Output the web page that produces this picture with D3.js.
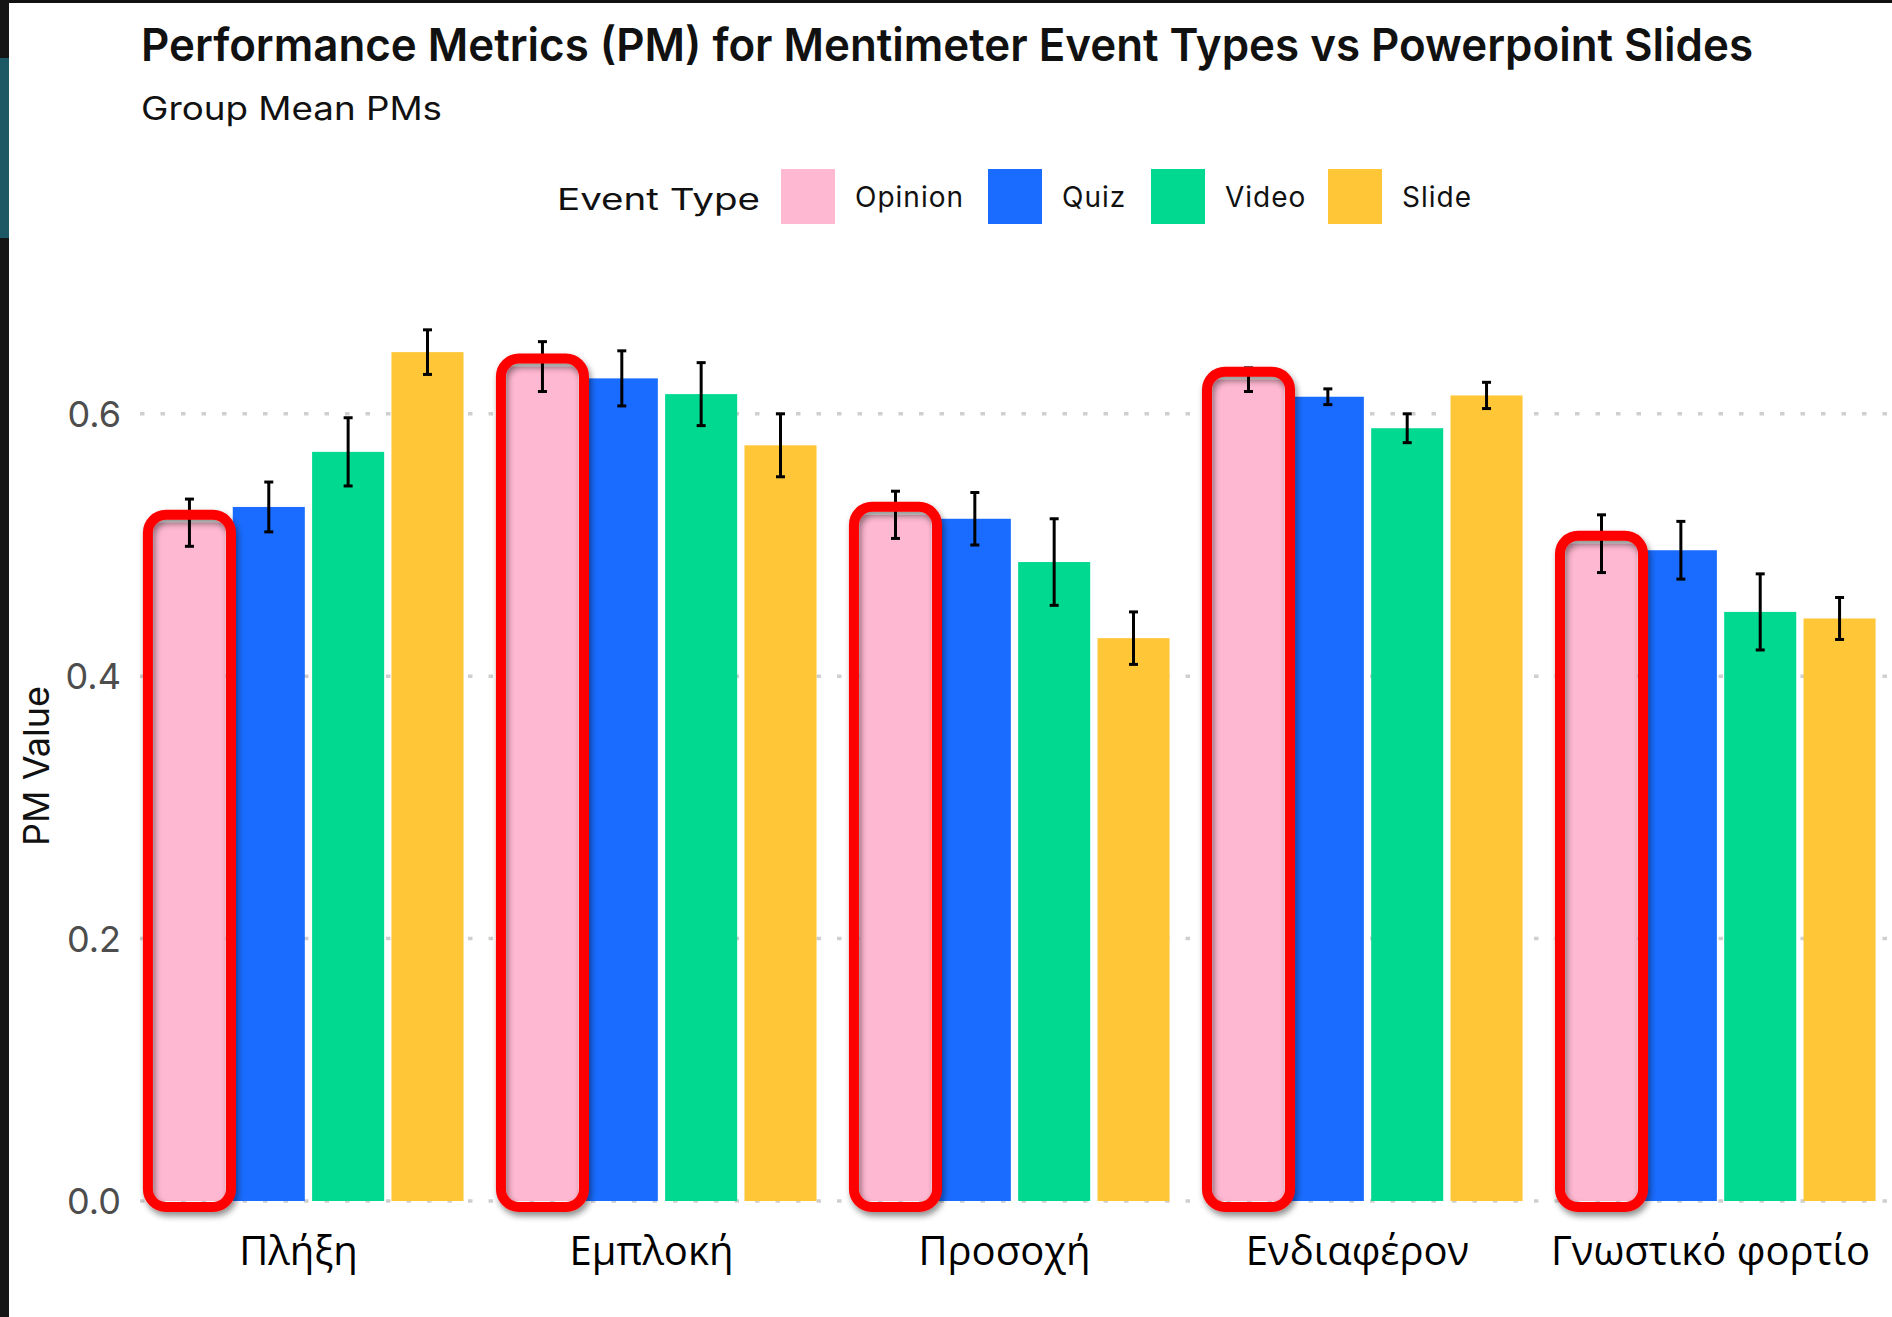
<!DOCTYPE html>
<html>
<head>
<meta charset="utf-8">
<script src="https://cdn.jsdelivr.net/npm/d3@7"></script>
<style>
  html, body { margin: 0; padding: 0; background: #fff; }
  svg { display: block; }
</style>
</head>
<body>
<div id="chart"></div>
<script>
'use strict';

// data
var categories = ["Πλήξη", "Εμπλοκή", "Προσοχή", "Ενδιαφέρον", "Γνωστικό φορτίο"];
var eventTypes = ["Opinion", "Quiz", "Video", "Slide"];
var opinion = [0.517, 0.636, 0.523, 0.626, 0.501];
var quiz    = [0.529, 0.627, 0.520, 0.613, 0.496];
var video   = [0.571, 0.615, 0.487, 0.589, 0.449];
var slide   = [0.647, 0.576, 0.429, 0.614, 0.444];
var opinionErr = [0.018, 0.019, 0.018, 0.009, 0.022];
var quizErr    = [0.019, 0.021, 0.020, 0.006, 0.022];
var videoErr   = [0.026, 0.024, 0.033, 0.011, 0.029];
var slideErr   = [0.017, 0.024, 0.020, 0.010, 0.016];
var yTicks = [0, 0.2, 0.4, 0.6];
var highlighted = "Opinion";

var values = { Opinion: opinion, Quiz: quiz, Video: video, Slide: slide };
var errors = { Opinion: opinionErr, Quiz: quizErr, Video: videoErr, Slide: slideErr };

var width = 1892, height = 1317;
var color = d3.scaleOrdinal()
    .domain(eventTypes)
    .range(["#ffb8d1", "#196cff", "#00d98f", "#ffc638"]);

var svg = d3.select('#chart').append('svg')
    .attr('width', width)
    .attr('height', height);

var defs = svg.append('defs');
var shadow = defs.append('filter').attr('id', 'shadow')
    .attr('x', '-20%').attr('y', '-5%').attr('width', '140%').attr('height', '110%');
shadow.append('feDropShadow')
    .attr('dx', 2).attr('dy', 4).attr('stdDeviation', 3)
    .attr('flood-color', '#000').attr('flood-opacity', 0.45);

svg.append('rect').attr('width', width).attr('height', height).attr('fill', '#fff');

// slide edge visible on the left / top
svg.append('rect').attr('x', 0).attr('y', 0).attr('width', width).attr('height', 3).attr('fill', '#111');
svg.append('rect').attr('x', 0).attr('y', 0).attr('width', 9).attr('height', height).attr('fill', '#151515');
svg.append('rect').attr('x', 0).attr('y', 58).attr('width', 9).attr('height', 180).attr('fill', '#1d5965');

var plot = { left: 140, right: 1889, zero: 1201, unit: 1312 };

var x0 = d3.scaleBand()
    .domain(categories)
    .range([plot.left, plot.right])
    .paddingInner(0.1216)
    .paddingOuter(0.038);

var x1 = d3.scaleBand()
    .domain(eventTypes)
    .range([0, x0.bandwidth()])
    .paddingInner(0.092)
    .paddingOuter(0);

var y = d3.scaleLinear()
    .domain([0, 0.7])
    .range([plot.zero, plot.zero - 0.7 * plot.unit]);

// titles
svg.append('text')
    .attr('x', 141).attr('y', 61)
    .attr('textLength', 1612).attr('lengthAdjust', 'spacingAndGlyphs')
    .style('font-family', 'Inter, Roboto, sans-serif')
    .style('font-weight', 600)
    .style('font-size', '45px')
    .style('fill', '#111')
    .text("Performance Metrics (PM) for Mentimeter Event Types vs Powerpoint Slides");

svg.append('text')
    .attr('x', 141).attr('y', 120)
    .attr('textLength', 301).attr('lengthAdjust', 'spacingAndGlyphs')
    .style('font-family', 'Inter, Roboto, sans-serif')
    .style('font-size', '32px')
    .style('fill', '#111')
    .text("Group Mean PMs");

// legend
var legend = svg.append('g');
legend.append('text')
    .attr('x', 557).attr('y', 210)
    .attr('textLength', 203).attr('lengthAdjust', 'spacingAndGlyphs')
    .style('font-family', 'Inter, Roboto, sans-serif')
    .style('font-size', '30px')
    .style('fill', '#111')
    .text("Event  Type");

var legendX = d3.scaleOrdinal()
    .domain(eventTypes)
    .range([781, 988, 1151, 1328]);

var key = legend.selectAll('.key')
    .data(eventTypes)
    .enter()
    .append('g')
    .attr('class', 'key')
    .attr('transform', function(d) {
        return 'translate(' + legendX(d) + ',169)';
    });

key.append('rect')
    .attr('width', 54).attr('height', 55)
    .attr('fill', function(d) { return color(d); });

key.append('text')
    .attr('x', 74).attr('y', 38)
    .style('font-family', 'Inter, Roboto, sans-serif')
    .style('font-size', '28px')
    .style('letter-spacing', '1px')
    .style('fill', '#111')
    .text(function(d) { return d; });

// gridlines
svg.append('g').selectAll('line')
    .data(yTicks)
    .enter()
    .append('line')
    .attr('x1', plot.left).attr('x2', width)
    .attr('y1', function(d) { return y(d); })
    .attr('y2', function(d) { return y(d); })
    .attr('stroke', '#cfcfcf')
    .attr('stroke-width', 3.5)
    .attr('stroke-dasharray', '4.5 16');

// y tick labels
svg.append('g').selectAll('text')
    .data(yTicks)
    .enter()
    .append('text')
    .attr('x', 121)
    .attr('y', function(d) { return y(d); })
    .attr('dy', '0.36em')
    .attr('text-anchor', 'end')
    .style('font-family', 'Inter, Roboto, sans-serif')
    .style('font-size', '36px')
    .style('fill', '#4d4d4d')
    .text(function(d) { return d3.format('.1f')(d); });

// y axis title
svg.append('text')
    .attr('transform', 'translate(49,766) rotate(-90)')
    .attr('text-anchor', 'middle')
    .style('font-family', 'Inter, Roboto, sans-serif')
    .style('font-size', '36px')
    .style('fill', '#111')
    .text("PM Value");

// bars
var groups = svg.append('g').selectAll('g')
    .data(categories)
    .enter()
    .append('g')
    .attr('transform', function(d) { return 'translate(' + x0(d) + ',0)'; });

var cells = function(d, i) {
    return eventTypes.map(function(t) {
        return { cat: d, type: t, value: values[t][i], err: errors[t][i] };
    });
};

groups.selectAll('rect')
    .data(cells)
    .enter()
    .append('rect')
    .attr('x', function(d) { return x1(d.type); })
    .attr('y', function(d) { return y(d.value); })
    .attr('width', x1.bandwidth())
    .attr('height', function(d) { return y(0) - y(d.value); })
    .attr('fill', function(d) { return color(d.type); });

// error bars
var eb = groups.selectAll('.err')
    .data(cells)
    .enter()
    .append('g')
    .attr('class', 'err')
    .attr('transform', function(d) {
        return 'translate(' + (x1(d.type) + x1.bandwidth() / 2) + ',0)';
    })
    .attr('stroke', '#000')
    .attr('stroke-width', 3);

eb.append('line')
    .attr('y1', function(d) { return y(d.value + d.err); })
    .attr('y2', function(d) { return y(d.value - d.err); });
eb.append('line')
    .attr('x1', -4.5).attr('x2', 4.5)
    .attr('y1', function(d) { return y(d.value + d.err); })
    .attr('y2', function(d) { return y(d.value + d.err); });
eb.append('line')
    .attr('x1', -4.5).attr('x2', 4.5)
    .attr('y1', function(d) { return y(d.value - d.err); })
    .attr('y2', function(d) { return y(d.value - d.err); });

// red highlight frames around the Opinion bars
groups.append('rect')
    .datum(function(d, i) { return { value: values[highlighted][i] }; })
    .attr('x', x1(highlighted) - 5.5)
    .attr('y', function(d) { return y(d.value) - 8; })
    .attr('width', x1.bandwidth() + 11)
    .attr('height', function(d) { return y(0) + 6 - (y(d.value) - 8); })
    .attr('rx', 18)
    .attr('fill', 'none')
    .attr('stroke', '#ff0000')
    .attr('stroke-width', 10)
    .attr('filter', 'url(#shadow)');

// category labels
svg.append('g').selectAll('text')
    .data(categories)
    .enter()
    .append('text')
    .attr('x', function(d) { return x0(d) + x0.bandwidth() / 2 - 10; })
    .attr('y', 1265)
    .attr('text-anchor', 'middle')
    .style('font-family', '"Open Sans", "Noto Sans", sans-serif')
    .style('font-size', '40px')
    .style('fill', '#000')
    .text(function(d) { return d; });
</script>
</body>
</html>
